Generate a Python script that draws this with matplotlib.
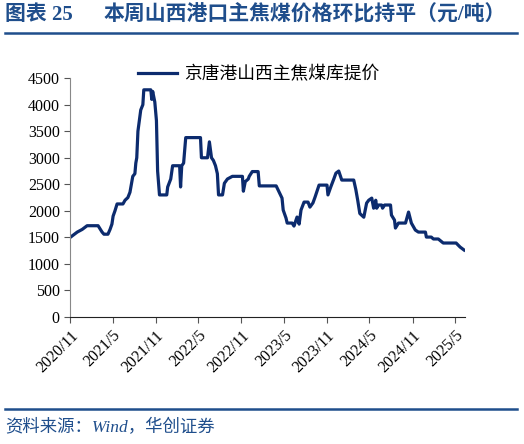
import pandas as pd
import matplotlib.pyplot as plt
from matplotlib.lines import Line2D

plt.rcParams['font.family'] = ['Liberation Serif', 'Noto Sans CJK SC']

# 京唐港山西主焦煤库提价 (元/吨)
dates = ['2020-11-01', '2020-12-01', '2020-12-22', '2021-01-12', '2021-02-28',
         '2021-03-17', '2021-03-25', '2021-04-11', '2021-04-20', '2021-04-28',
         '2021-05-03', '2021-05-11', '2021-05-20', '2021-06-14', '2021-06-23',
         '2021-07-05', '2021-07-14', '2021-07-18', '2021-07-26', '2021-08-04',
         '2021-08-08', '2021-08-12', '2021-08-17', '2021-08-29', '2021-09-07',
         '2021-09-11', '2021-10-11', '2021-10-15', '2021-10-19', '2021-10-28',
         '2021-11-04', '2021-11-09', '2021-11-17', '2021-12-18', '2021-12-22',
         '2022-01-04', '2022-01-12', '2022-02-11', '2022-02-15', '2022-02-20',
         '2022-02-28', '2022-03-09', '2022-05-11', '2022-05-15', '2022-06-10',
         '2022-06-18', '2022-06-27', '2022-07-05', '2022-07-14', '2022-07-22',
         '2022-07-27', '2022-08-13', '2022-08-21', '2022-09-03', '2022-09-24',
         '2022-11-06', '2022-11-10', '2022-11-18', '2022-12-01', '2022-12-05',
         '2022-12-18', '2023-01-12', '2023-01-17', '2023-03-30', '2023-04-24',
         '2023-04-29', '2023-05-11', '2023-05-16', '2023-06-06', '2023-06-14',
         '2023-06-27', '2023-07-06', '2023-07-14', '2023-07-27', '2023-08-13',
         '2023-08-21', '2023-09-03', '2023-09-12', '2023-09-29', '2023-11-02',
         '2023-11-06', '2023-11-18', '2023-12-01', '2023-12-10', '2023-12-22',
         '2024-01-04', '2024-02-24', '2024-03-04', '2024-03-12', '2024-03-21',
         '2024-04-07', '2024-04-19', '2024-04-28', '2024-05-11', '2024-05-19',
         '2024-05-28', '2024-06-01', '2024-06-09', '2024-06-22', '2024-06-26',
         '2024-07-05', '2024-07-30', '2024-08-03', '2024-08-16', '2024-08-20',
         '2024-09-02', '2024-10-02', '2024-10-15', '2024-10-27', '2024-11-13',
         '2024-11-26', '2024-12-26', '2024-12-30', '2025-01-20', '2025-01-29',
         '2025-02-19', '2025-03-12', '2025-05-06', '2025-05-23', '2025-06-09']
prices = [1500, 1600, 1650, 1720, 1720,
          1600, 1560, 1560, 1650, 1750,
          1900, 2000, 2130, 2130, 2200,
          2250, 2350, 2450, 2650, 2700,
          2900, 3000, 3500, 3900, 4000,
          4280, 4280, 4100, 4250, 4050,
          3700, 2750, 2300, 2300, 2450,
          2600, 2850, 2850, 2450, 2850,
          2900, 3380, 3380, 3000, 3000,
          3300, 3000, 2950, 2850, 2700,
          2300, 2300, 2520, 2600, 2650,
          2650, 2370, 2550, 2600, 2650,
          2740, 2740, 2470, 2470, 2240,
          2015, 1864, 1770, 1770, 1713,
          1883, 1750, 2015, 2165, 2165,
          2070, 2150, 2260, 2485, 2485,
          2300, 2450, 2600, 2710, 2750,
          2580, 2580, 2400, 2200, 1950,
          1880, 2146, 2200, 2240, 2050,
          2200, 2050, 2110, 2110, 2050,
          2110, 2110, 1920, 1826, 1676,
          1770, 1770, 1977, 1770, 1638,
          1600, 1600, 1506, 1506, 1470,
          1470, 1394, 1394, 1318, 1262]
tick_dates = ['2020-11-01', '2021-05-01', '2021-11-01', '2022-05-01', '2022-11-01',
              '2023-05-01', '2023-11-01', '2024-05-01', '2024-11-01', '2025-05-01']
tick_labels = ['2020/11', '2021/5', '2021/11', '2022/5', '2022/11',
               '2023/5', '2023/11', '2024/5', '2024/11', '2025/5']

navy = '#0C2B6E'
blue = '#1F4E8C'

df = pd.DataFrame({'date': pd.to_datetime(dates), 'price': prices})

fig = plt.figure(figsize=(5.24, 4.44), dpi=100)
ax = fig.add_axes([0.134, 0.286, 0.753, 0.538])

ax.plot(df['date'], df['price'], color=navy, linewidth=2.3)

ax.set_ylim(0, 4500)
ax.set_yticks(range(0, 4501, 500))
ax.set_xlim(pd.Timestamp('2020-11-01'), pd.Timestamp('2025-06-12'))
ax.set_xticks(pd.to_datetime(tick_dates))
ax.set_xticklabels(tick_labels, rotation=45, ha='right', rotation_mode='anchor')
ax.tick_params(labelsize=11.5, direction='out', length=4, color='#555555')

for s in ['top', 'right']:
    ax.spines[s].set_visible(False)
ax.spines['left'].set_color('#888888')
ax.spines['bottom'].set_color('#222222')

legend = [Line2D([0], [0], color=navy, linewidth=2.3, label='京唐港山西主焦煤库提价')]
ax.legend(handles=legend, loc='upper left', bbox_to_anchor=(0.13, 1.115),
          frameon=False, fontsize=12.8, handlelength=2.2, handletextpad=0.4)

fig.text(0.01, 0.966, '图表 25', color=blue, fontsize=15, fontweight='bold', va='center')
fig.text(0.197, 0.966, '本周山西港口主焦煤价格环比持平（元/吨）', color=blue, fontsize=15,
         fontweight='bold', va='center')
fig.add_artist(Line2D([0.01, 0.987], [0.925, 0.925], color=blue, linewidth=1.8))
fig.add_artist(Line2D([0.01, 0.987], [0.079, 0.079], color=blue, linewidth=1.8))
fig.text(0.01, 0.036, '资料来源：Wind，华创证券', color=blue, fontsize=12.5,
         style='italic', va='center')

plt.savefig('out.png', dpi=100)
